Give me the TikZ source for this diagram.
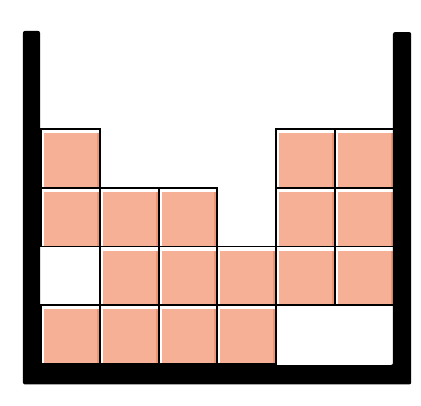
\documentclass[tikz,border=0pt]{standalone}
\usetikzlibrary{positioning}

\definecolor{brick}{RGB}{245,176,150}
\definecolor{brickdark}{RGB}{236,150,118}

\begin{document}
\begin{tikzpicture}[x=1cm, y=1cm,
    block/.style={draw=black, line width=0.9pt, fill=brick, minimum size=1cm,
      inner sep=0pt, anchor=south west,
      path picture={
        % light top and left edge, darker right edge
        \fill[brickdark] ([xshift=-0.05cm]path picture bounding box.south east)
          rectangle (path picture bounding box.north east);
        \fill[white] ([yshift=-0.07cm]path picture bounding box.north west)
          rectangle (path picture bounding box.north east);
        \fill[white] (path picture bounding box.south west)
          rectangle ([xshift=0.05cm]path picture bounding box.north west);
      }},
    wall/.style={fill=black, rounded corners=1pt}]
    \useasboundingbox (-0.68,-0.68) rectangle (6.476,6.205);

    % Blocks (column/row)
    \foreach \c/\r in {0/0,1/0,2/0,3/0,
                       1/1,2/1,3/1,4/1,5/1,
                       0/2,1/2,2/2,4/2,5/2,
                       0/3,4/3,5/3}
        \node[block] (b\c\r) at (\c,\r) {};

    % Container
    \fill[wall] (-0.29,5.68) -- (0,5.68) -- (0,0) -- (6,0) -- (6,5.66)
        -- (6.31,5.66) -- (6.31,-0.33) -- (-0.29,-0.33) -- cycle;

\end{tikzpicture}
\end{document}
